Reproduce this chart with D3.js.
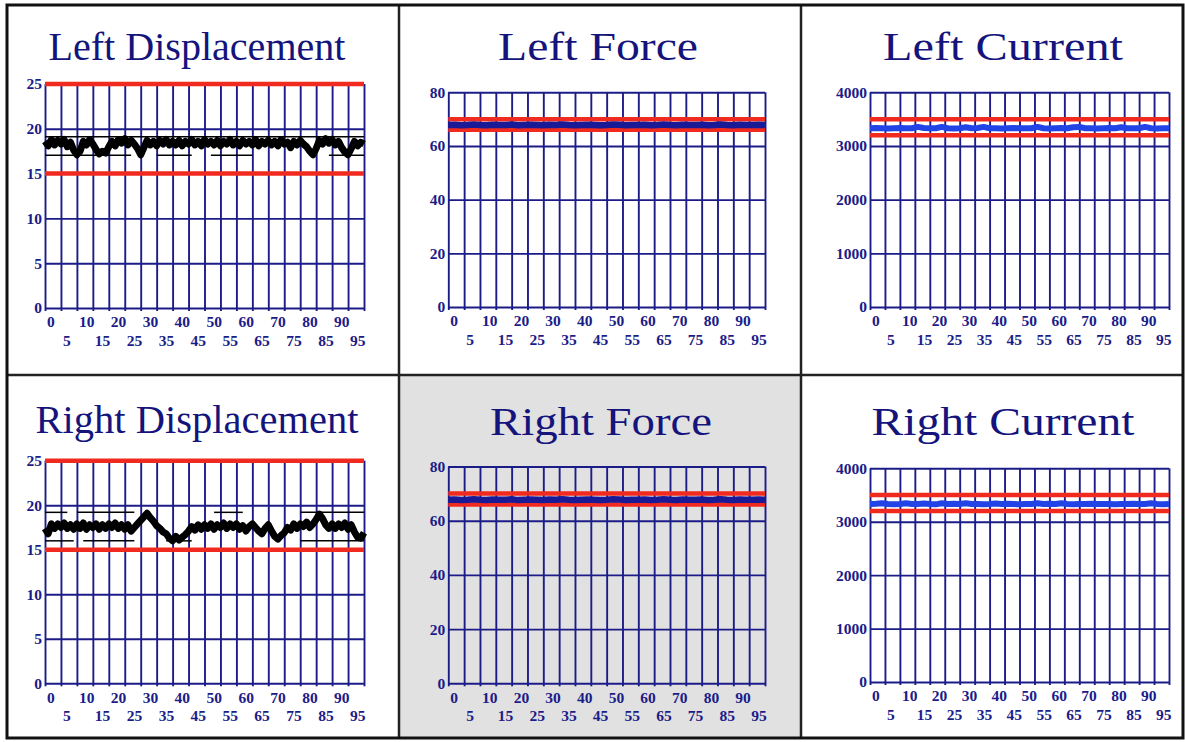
<!DOCTYPE html>
<html><head><meta charset="utf-8">
<script src="https://cdn.jsdelivr.net/npm/d3@7"></script>
<style>body{margin:0;background:#fff}svg{display:block}</style>
</head><body>
<svg id="c" width="1185" height="742"></svg>
<script>
// ---------- DATA ----------
const titles = ["Left Displacement","Left Force","Left Current","Right Displacement","Right Force","Right Current"];
const xTickLabels = [0,5,10,15,20,25,30,35,40,45,50,55,60,65,70,75,80,85,90,95];
const xGridValues = [0,5,10,15,20,25,30,35,40,45,50,55,60,65,70,75,80,85,90,95,100];
const dispTicks = [0,5,10,15,20,25];
const forceTicks = [0,20,40,60,80];
const currentTicks = [0,1000,2000,3000,4000];
const dispLimits = [15,25];
const forceLimits = [66,70];
const currentLimits = [3200,3500];

// displacement samples: one per x unit (0..100)
const leftDisp = [18.6,18.1,18.8,18.2,18.7,18.3,18.8,18.0,18.5,17.6,
  17.1,17.5,18.6,18.2,18.8,18.3,17.7,17.2,17.5,17.3,
  18.0,18.6,18.1,18.8,18.4,18.9,18.2,18.7,18.3,17.8,
  17.1,17.9,18.7,18.2,18.6,18.1,18.7,18.3,18.8,18.2,
  18.6,18.2,18.7,18.1,18.6,18.3,18.8,18.2,18.6,18.1,
  18.8,18.3,18.6,18.2,18.7,18.1,18.6,18.3,18.8,18.2,
  18.6,18.1,18.7,18.3,18.6,18.2,18.8,18.1,18.6,18.3,
  18.7,18.2,18.6,18.1,18.8,18.3,18.5,17.9,18.6,18.2,
  18.7,18.3,18.0,17.5,17.1,17.8,18.7,18.3,18.9,18.4,
  18.8,18.2,18.6,17.9,17.4,17.1,17.8,18.6,18.1,18.5,18.3];
const rightDisp = [17.4,16.8,17.9,17.4,17.9,17.5,18.0,17.4,17.8,17.3,
  17.9,17.4,18.0,17.3,17.8,17.5,17.9,17.3,17.8,17.4,
  17.9,17.5,18.0,17.4,17.8,17.3,17.8,17.1,17.5,17.9,
  18.3,18.7,19.1,18.6,18.2,17.7,17.4,17.0,16.8,16.3,
  16.0,16.5,16.1,16.4,16.7,17.1,17.6,17.2,17.8,17.3,
  17.8,17.4,17.9,17.3,17.8,17.5,18.0,17.4,17.9,17.5,
  17.9,17.3,17.7,17.1,17.6,17.9,17.5,17.1,16.8,17.4,
  17.8,17.1,16.5,16.2,16.6,16.9,17.5,17.2,17.9,17.4,
  17.9,17.6,18.1,17.5,17.9,18.4,19.0,18.5,17.8,17.4,
  17.9,17.4,17.9,17.5,18.0,17.3,17.8,17.0,16.4,16.3,16.9];
// thin reference lines on displacement charts: level and the x ranges where drawn
const leftDispUpper = 19.1, leftDispUpperSeg = [[0,100]];
const leftDispLower = 17.05, leftDispLowerSeg = [[0,27],[35,46],[52,65],[89,100]];
const rightDispUpper = 19.2, rightDispUpperSeg = [[0,7],[10,28],[53,62],[80,100]];
const rightDispLower = 16.0, rightDispLowerSeg = [[0,9],[12,28],[38,46],[80,100]];

// force / current samples: one every 2 x units (0..100)
const leftForce = [67.8,67.9,67.7,67.8,68.0,67.8,67.7,67.9,67.8,67.8,68.0,67.7,67.8,67.9,67.8,67.7,67.9,67.8,68.0,67.8,
  67.7,67.8,67.9,67.8,67.7,67.8,68.0,67.9,67.7,67.8,67.8,67.9,67.7,67.8,68.0,67.8,67.7,67.9,67.8,67.8,
  67.9,67.7,67.8,68.0,67.8,67.7,67.9,67.8,67.8,67.9,67.8];
const rightForce = [67.7,67.8,67.6,67.7,67.9,67.7,67.6,67.8,67.7,67.7,67.9,67.6,67.7,67.8,67.7,67.6,67.8,67.7,67.9,67.7,
  67.6,67.7,67.8,67.7,67.6,67.7,67.9,67.8,67.6,67.7,67.7,67.8,67.6,67.7,67.9,67.7,67.6,67.8,67.7,67.7,
  67.8,67.6,67.7,67.9,67.7,67.6,67.8,67.7,67.7,67.8,67.7];
const leftCurrent = [3330,3335,3330,3325,3330,3335,3330,3330,3355,3335,3330,3330,3355,3330,3325,3330,3350,3330,3335,3355,
  3330,3330,3325,3330,3335,3330,3330,3330,3355,3330,3325,3330,3335,3330,3350,3355,3330,3330,3325,3330,
  3335,3330,3350,3330,3330,3330,3355,3330,3325,3330,3330];
const rightCurrent = [3330,3335,3345,3330,3325,3330,3345,3330,3330,3340,3330,3325,3345,3330,3335,3330,3345,3330,3330,3325,
  3330,3340,3330,3335,3330,3325,3330,3330,3345,3330,3335,3330,3345,3330,3325,3330,3330,3335,3330,3330,
  3330,3325,3330,3330,3335,3330,3330,3345,3330,3325,3330];

// ---------- STYLE / LAYOUT ----------
const NAVY = "#1c1c88", RED = "#f02a1e", TITLE = "#14147c";
const panels = [
  {title:titles[0], tx:197, ty:60, tw:297, x0:45,  x1:364,  yb:308,   yt:84,    top:25,   ticks:dispTicks,   limits:dispLimits,    data:leftDisp,    step:1, color:"#000", sw:7,
   bands:[[leftDispUpper,leftDispUpperSeg],[leftDispLower,leftDispLowerSeg]]},
  {title:titles[1], tx:598, ty:60, tw:200, x0:448.3,x1:765, yb:307,   yt:92.3,  top:80,   ticks:forceTicks,  limits:forceLimits,   data:leftForce,   step:2, color:"#1a1a96", sw:6.5, bands:[]},
  {title:titles[2], tx:1003,ty:60, tw:240, x0:870, x1:1169, yb:307,   yt:92.3,  top:4000, ticks:currentTicks,limits:currentLimits, data:leftCurrent, step:2, color:"#2244e6", sw:6, bands:[]},
  {title:titles[3], tx:197, ty:433,tw:323, x0:45,  x1:364,  yb:683.3, yt:460.7, top:25,   ticks:dispTicks,   limits:dispLimits,    data:rightDisp,   step:1, color:"#000", sw:7,
   bands:[[rightDispUpper,rightDispUpperSeg],[rightDispLower,rightDispLowerSeg]]},
  {title:titles[4], tx:601, ty:435,tw:222, x0:448.3,x1:765, yb:683.3, yt:466.5, top:80,   ticks:forceTicks,  limits:forceLimits,   data:rightForce,  step:2, color:"#1a1a96", sw:6.5, bands:[], bg:true},
  {title:titles[5], tx:1003,ty:435,tw:263, x0:870, x1:1169, yb:682,   yt:468.3, top:4000, ticks:currentTicks,limits:currentLimits, data:rightCurrent,step:2, color:"#2244e6", sw:6, bands:[]}
];

const svg = d3.select("#c");
svg.append("rect").attr("width",1185).attr("height",742).attr("fill","#fff");
// gray background of Right Force panel
svg.append("rect").attr("x",400).attr("y",376).attr("width",400).attr("height",361).attr("fill","#e1e1e1");

const tickFont = "'Liberation Serif','Times New Roman',serif";
panels.forEach(p => {
  const g = svg.append("g");
  const x = d3.scaleLinear().domain([0,100]).range([p.x0,p.x1]);
  const y = d3.scaleLinear().domain([0,p.top]).range([p.yb,p.yt]);
  const h = p.yb - p.yt, w = p.x1 - p.x0;

  g.append("text").attr("x",p.tx).attr("y",p.ty).attr("text-anchor","middle")
    .attr("font-family","'Liberation Serif','Times New Roman',serif").attr("font-size",40)
    .attr("fill",TITLE).attr("textLength",p.tw).attr("lengthAdjust","spacingAndGlyphs").text(p.title);

  // vertical grid via axis
  const gx = g.append("g").attr("transform",`translate(0,${p.yb+3})`)
    .call(d3.axisBottom(x).tickValues(xGridValues).tickSize(-(h+3)).tickFormat(""));
  gx.select(".domain").remove();
  gx.selectAll("line").attr("stroke",NAVY).attr("stroke-width",1.9);

  // horizontal grid + y labels via axis
  const gy = g.append("g").attr("transform",`translate(${p.x0},0)`)
    .call(d3.axisLeft(y).tickValues(p.ticks).tickSize(-w).tickPadding(3).tickFormat(d3.format("d")));
  gy.select(".domain").remove();
  gy.selectAll("line").attr("stroke",NAVY).attr("stroke-width",1.9);
  gy.selectAll("text").attr("fill",NAVY).attr("font-family",tickFont)
    .attr("font-weight","bold").attr("font-size",15.5);

  // x labels, staggered in two rows, left aligned at grid lines
  g.selectAll(".xl").data(xTickLabels).join("text")
    .attr("x",d=>x(d)+2).attr("y",(d,i)=> p.yb + (i%2===0 ? 14 : 32.5))
    .attr("dy","0.35em").attr("text-anchor","start")
    .attr("fill",NAVY).attr("font-family",tickFont)
    .attr("font-weight","bold").attr("font-size",15.5).text(d=>d);

  // thin reference lines
  p.bands.forEach(([lvl,segs]) => {
    g.selectAll(null).data(segs).join("line")
      .attr("x1",d=>x(d[0])).attr("x2",d=>x(d[1])).attr("y1",y(lvl)).attr("y2",y(lvl))
      .attr("stroke","#000").attr("stroke-width",1.5);
  });

  // limit lines
  g.selectAll(null).data(p.limits).join("line")
    .attr("x1",p.x0).attr("x2",p.x1).attr("y1",d=>y(d)).attr("y2",d=>y(d))
    .attr("stroke",RED).attr("stroke-width",4.5);

  // data
  const line = d3.line().x((d,i)=>x(i*p.step)).y(d=>y(d));
  g.append("path").datum(p.data).attr("d",line).attr("fill","none")
    .attr("stroke",p.color).attr("stroke-width",p.sw).attr("stroke-linejoin","round");
});

// panel dividers and outer frame
svg.append("line").attr("x1",399).attr("x2",399).attr("y1",5).attr("y2",738).attr("stroke","#222").attr("stroke-width",2.5);
svg.append("line").attr("x1",801).attr("x2",801).attr("y1",5).attr("y2",738).attr("stroke","#222").attr("stroke-width",2.5);
svg.append("line").attr("x1",7).attr("x2",1183).attr("y1",375).attr("y2",375).attr("stroke","#222").attr("stroke-width",2.5);
svg.append("rect").attr("x",7).attr("y",5).attr("width",1176).attr("height",733)
  .attr("fill","none").attr("stroke","#111").attr("stroke-width",3);
</script>
</body></html>
